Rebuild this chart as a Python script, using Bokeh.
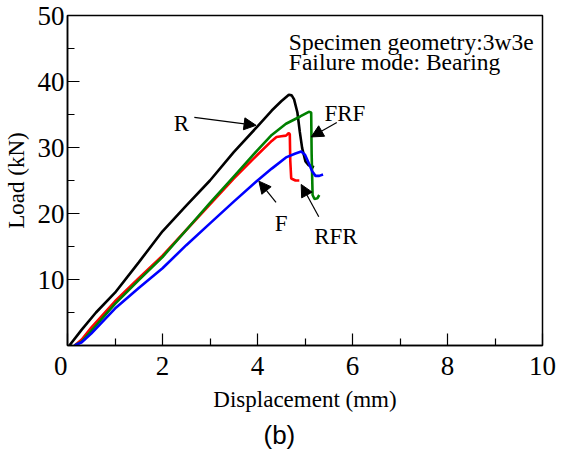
from bokeh.plotting import figure
from bokeh.models import Range1d, Label, Arrow, NormalHead, Title, FixedTicker
from bokeh.embed import file_html
from bokeh.resources import INLINE

# ---- data ----
r_disp = [0.04, 0.3, 0.6, 1.0, 1.5, 2.0, 2.5, 3.0, 3.5, 4.0, 4.3, 4.5, 4.66, 4.72, 4.77, 4.84, 4.89, 4.94, 5.01, 5.08, 5.19]
r_load = [0.0, 2.4, 5.0, 8.0, 12.6, 17.3, 21.2, 25.0, 29.3, 33.2, 35.6, 37.0, 38.0, 37.9, 37.3, 35.3, 32.4, 29.9, 27.9, 27.3, 27.0]

frf_disp = [0.15, 0.3, 0.5, 1.0, 1.5, 2.0, 2.5, 3.0, 3.5, 4.0, 4.3, 4.6, 4.9, 5.08, 5.13, 5.14, 5.16, 5.2, 5.26, 5.3]
frf_load = [0.0, 0.6, 2.2, 6.3, 9.9, 13.4, 17.5, 21.6, 25.6, 29.6, 31.9, 33.6, 34.7, 35.4, 35.3, 29.0, 22.8, 22.2, 22.3, 22.8]

rfr_disp = [0.15, 0.3, 0.5, 1.0, 1.5, 2.0, 2.5, 3.0, 3.5, 4.0, 4.3, 4.4, 4.5, 4.6, 4.66, 4.68, 4.69, 4.71, 4.8, 4.88]
rfr_load = [0.0, 0.9, 2.7, 6.7, 10.2, 13.6, 17.5, 21.4, 25.3, 28.9, 31.0, 31.6, 31.7, 31.8, 32.2, 32.0, 28.0, 25.3, 25.0, 25.0]

f_disp = [0.15, 0.3, 0.5, 1.0, 1.5, 2.0, 2.5, 3.0, 3.5, 4.0, 4.3, 4.6, 4.8, 4.92, 5.0, 5.08, 5.15, 5.22, 5.3, 5.38]
f_load = [0.0, 0.5, 1.8, 5.6, 8.7, 11.7, 15.2, 18.5, 21.8, 25.0, 26.8, 28.5, 29.1, 29.4, 28.9, 27.6, 26.4, 25.7, 25.7, 25.9]

x_ticks = [0, 2, 4, 6, 8, 10]
x_minor = [1, 3, 5, 7, 9]
y_ticks = [0, 10, 20, 30, 40, 50]
y_minor = [5, 15, 25, 35, 45]

# curve labels: text, x, y (baseline), arrow tail x,y, arrow tip x,y
lbl_text = ["R", "FRF", "F", "RFR"]
lbl_x = [2.40, 5.84, 4.50, 5.65]
lbl_y = [33.66, 35.15, 18.43, 16.49]
arr_x0 = [2.67, 5.67, 4.39, 5.29]
arr_y0 = [34.55, 33.8, 21.7, 19.5]
arr_x1 = [3.97, 5.13, 4.03, 4.92]
arr_y1 = [33.36, 31.6, 24.9, 24.4]

SERIF = "Liberation Serif"

p = figure(width=556, height=452, output_backend="svg", toolbar_location=None,
           x_range=Range1d(0, 10), y_range=Range1d(0, 50),
           min_border_left=66, min_border_right=14, min_border_top=15, min_border_bottom=105,
           x_axis_label="Displacement (mm)", y_axis_label="Load (kN)")
p.xgrid.visible = False
p.ygrid.visible = False
p.outline_line_color = "black"
p.outline_line_width = 1.5
p.outline_line_alpha = 1.0
p.background_fill_color = "white"
p.border_fill_color = "white"

p.xaxis.ticker = FixedTicker(ticks=x_ticks, minor_ticks=x_minor)
p.yaxis.ticker = FixedTicker(ticks=y_ticks, minor_ticks=y_minor)
for ax in (p.xaxis, p.yaxis):
    ax.major_tick_in = 12
    ax.major_tick_out = 0
    ax.minor_tick_in = 7
    ax.minor_tick_out = 0
    ax.axis_line_color = "black"
    ax.axis_line_width = 1.5
    ax.major_tick_line_color = "black"
    ax.minor_tick_line_color = "black"
    ax.major_tick_line_width = 1.2
    ax.minor_tick_line_width = 1.2
    ax.major_label_text_font = SERIF
    ax.major_label_text_font_size = "27px"
    ax.major_label_text_color = "black"
    ax.axis_label_text_font = SERIF
    ax.axis_label_text_font_size = "23px"
    ax.axis_label_text_font_style = "normal"
    ax.axis_label_text_color = "black"
p.yaxis.major_label_overrides = {0: ""}
p.xaxis.major_label_overrides = {0: "0\u00a0\u00a0"}
p.yaxis.major_label_standoff = 3
p.xaxis.major_label_standoff = 5
p.yaxis.axis_label_standoff = 6
p.xaxis.axis_label_standoff = 3

p.line(r_disp, r_load, line_color="black", line_width=2.6)
p.line(rfr_disp, rfr_load, line_color="#ff0000", line_width=2.6)
p.line(frf_disp, frf_load, line_color="#008000", line_width=2.6)
p.line(f_disp, f_load, line_color="#0000ff", line_width=2.6)

for i in range(len(lbl_text)):
    p.add_layout(Label(x=lbl_x[i], y=lbl_y[i], text=lbl_text[i], text_align="center",
                       text_baseline="alphabetic", text_font=SERIF, text_font_size="23px",
                       text_color="black"))
    p.add_layout(Arrow(x_start=arr_x0[i], y_start=arr_y0[i], x_end=arr_x1[i], y_end=arr_y1[i],
                       line_color="black", line_width=1.2,
                       end=NormalHead(size=12, fill_color="black", line_color="black")))

p.add_layout(Label(x=4.66, y=46.0, text="Specimen geometry:3w3e", text_align="left",
                   text_baseline="alphabetic", text_font=SERIF, text_font_size="23.5px", text_color="black"))
p.add_layout(Label(x=4.66, y=43.0, text="Failure mode: Bearing", text_align="left",
                   text_baseline="alphabetic", text_font=SERIF, text_font_size="23.5px", text_color="black"))

cap = Title(text="(b)", align="left", offset=196, standoff=6, text_font="Liberation Sans",
            text_font_size="26px", text_font_style="normal", text_color="black")
p.add_layout(cap, "below")

open("out.html", "w").write(file_html(p, INLINE))
